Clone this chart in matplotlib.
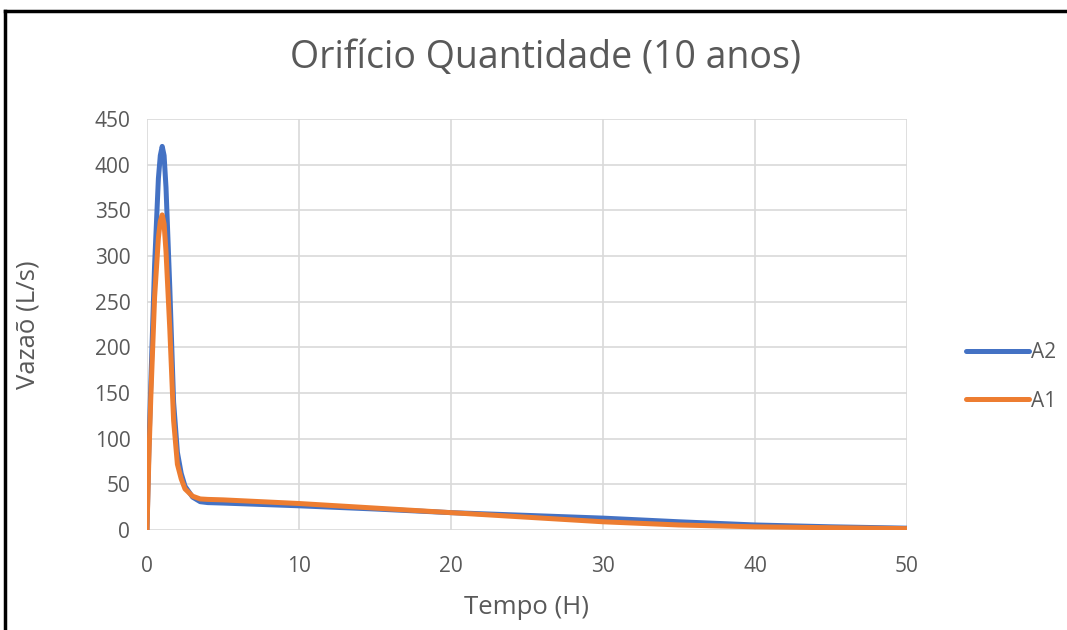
import matplotlib
matplotlib.use("Agg")
import matplotlib.pyplot as plt
from matplotlib.lines import Line2D

# vazão nos orifícios, chuva de 10 anos
tempo = [0, 0.125, 0.25, 0.5, 0.75, 0.875, 1, 1.125, 1.25, 1.5, 1.75, 2, 2.25,
         2.5, 3, 3.5, 4, 5, 7.5, 10, 15, 20, 25, 30, 35, 40, 45, 50]
vazao_a2 = [0, 90, 160, 290, 385, 410, 420, 410, 375, 265, 140, 85, 62,
            48, 36, 31, 30, 29.5, 28, 26.5, 23, 19, 16, 13, 9, 5.5, 3.5, 2]
vazao_a1 = [0, 80, 145, 255, 320, 338, 345, 335, 305, 220, 120, 72, 56,
            45, 37, 34, 33.5, 33, 31, 29, 24, 19, 14, 9, 5.5, 3.5, 2.5, 1.5]

xticks = [0, 10, 20, 30, 40, 50]
yticks = list(range(0, 451, 50))

cinza = "#595959"
fonte = "Open Sans"

fig = plt.figure(figsize=(10.67, 6.3), dpi=100)
ax = fig.add_axes([147 / 1067, 100 / 630, 760 / 1067, 411 / 630])

ax.plot(tempo, vazao_a2, color="#4472C4", lw=3.6, label="A2",
        solid_capstyle="round", solid_joinstyle="round", zorder=3)
ax.plot(tempo, vazao_a1, color="#ED7D31", lw=3.6, label="A1",
        solid_capstyle="round", solid_joinstyle="round", zorder=4)

ax.set_xlim(0, 50)
ax.set_ylim(0, 450)
ax.set_xticks(xticks)
ax.set_yticks(yticks)
ax.grid(True, color="#D9D9D9", lw=1.2)
ax.set_axisbelow(True)
for s in ax.spines.values():
    s.set_visible(False)
ax.tick_params(length=0, labelsize=15, labelcolor=cinza)
ax.tick_params(axis="x", pad=19)
ax.tick_params(axis="y", pad=12)
for lab in ax.get_xticklabels() + ax.get_yticklabels():
    lab.set_fontfamily(fonte)

fig.text(545 / 1067, 1 - 58 / 630, "Orifício Quantidade (10 anos)", ha="center",
         va="center", fontsize=27, color=cinza, family=fonte)
fig.text(527 / 1067, 1 - 608 / 630, "Tempo (H)", ha="center", va="center",
         fontsize=18.5, color=cinza, family=fonte)
fig.text(28 / 1067, 1 - 325 / 630, "Vazaõ (L/s)", ha="center", va="center",
         rotation=90, fontsize=18.5, color=cinza, family=fonte)

# legenda à direita
handles = [h for h in ax.get_lines()]
leg = fig.legend(handles, ["A2", "A1"], loc="center left",
                 bbox_to_anchor=(966 / 1067, 1 - 377 / 630), frameon=False,
                 borderpad=0, borderaxespad=0,
                 handlelength=3.0, handletextpad=0.1, labelspacing=1.3,
                 prop={"family": fonte, "size": 15})
for t in leg.get_texts():
    t.set_color(cinza)

# moldura preta (topo e lateral esquerda)
fig.add_artist(Line2D([5 / 1067, 1], [1 - 11 / 630, 1 - 11 / 630],
                      transform=fig.transFigure, color="black", lw=2.5))
fig.add_artist(Line2D([5 / 1067, 5 / 1067], [0, 1 - 11 / 630],
                      transform=fig.transFigure, color="black", lw=2.5))

fig.savefig("out.png", dpi=100)
